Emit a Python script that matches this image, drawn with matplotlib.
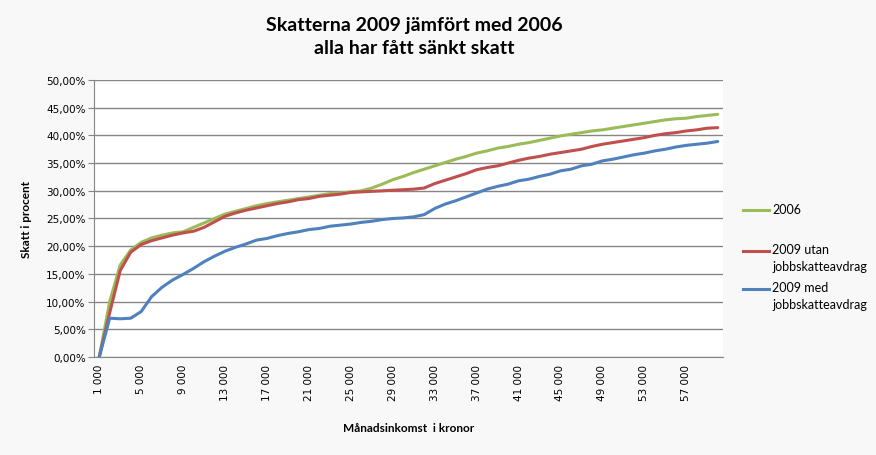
import numpy as np
import matplotlib
matplotlib.use("Agg")
import matplotlib.pyplot as plt
from matplotlib.lines import Line2D
from matplotlib.ticker import FuncFormatter

# Månadsinkomst i kronor (1 000 - 60 000)
inkomst = list(range(1000, 61000, 1000))

skatt_2006 = [0.0, 10.0, 16.6, 19.3, 20.7, 21.5, 22.0, 22.4, 22.6, 23.4,
              24.2, 25.0, 25.8, 26.3, 26.8, 27.3, 27.7, 28.0, 28.3, 28.6,
              28.9, 29.2, 29.5, 29.6, 29.8, 30.0, 30.5, 31.2, 32.0, 32.6,
              33.3, 33.9, 34.5, 35.1, 35.7, 36.2, 36.8, 37.2, 37.7, 38.0,
              38.4, 38.7, 39.1, 39.5, 39.9, 40.2, 40.5, 40.8, 41.0, 41.3,
              41.6, 41.9, 42.2, 42.5, 42.8, 43.0, 43.1, 43.4, 43.6, 43.8]

skatt_2009_utan = [0.0, 8.0, 15.6, 18.9, 20.3, 21.0, 21.5, 22.0, 22.4, 22.7,
                   23.4, 24.4, 25.4, 26.0, 26.5, 26.9, 27.3, 27.7, 28.0, 28.4,
                   28.6, 29.0, 29.2, 29.4, 29.7, 29.8, 29.9, 30.0, 30.1, 30.2,
                   30.3, 30.5, 31.3, 31.9, 32.5, 33.1, 33.8, 34.2, 34.5, 35.0,
                   35.5, 35.9, 36.2, 36.6, 36.9, 37.2, 37.5, 38.0, 38.4, 38.7,
                   39.0, 39.3, 39.6, 40.0, 40.3, 40.5, 40.8, 41.0, 41.3, 41.4]

skatt_2009_med = [0.0, 7.0, 6.9, 7.0, 8.2, 10.9, 12.6, 13.9, 14.9, 16.0,
                  17.2, 18.2, 19.1, 19.8, 20.4, 21.1, 21.4, 21.9, 22.3, 22.6,
                  23.0, 23.2, 23.6, 23.8, 24.0, 24.3, 24.5, 24.8, 25.0, 25.1,
                  25.3, 25.7, 26.8, 27.6, 28.2, 28.9, 29.6, 30.3, 30.8, 31.2,
                  31.8, 32.1, 32.6, 33.0, 33.6, 33.9, 34.5, 34.8, 35.4, 35.7,
                  36.1, 36.5, 36.8, 37.2, 37.5, 37.9, 38.2, 38.4, 38.6, 38.9]

serier = ["2006", "2009 utan\njobbskatteavdrag", "2009 med\njobbskatteavdrag"]
farger = ["#9BBB59", "#C0504D", "#4F81BD"]

plt.rcParams['font.family'] = ['Lato', 'DejaVu Sans']

W, H = 876, 456
fig = plt.figure(figsize=(W / 100, H / 100), dpi=100, facecolor="#f8f8f8")
ax = fig.add_axes([0.1073, 0.2149, 0.718, 0.6075])
ax.set_facecolor("white")

x = np.arange(len(inkomst))
for data, namn, farg in zip([skatt_2006, skatt_2009_utan, skatt_2009_med], serier, farger):
    ax.plot(x, data, color=farg, lw=2.2, label=namn, solid_capstyle="round")

ax.set_xlim(-0.5, len(inkomst) - 0.5)
ax.set_ylim(0, 50)
ax.set_yticks(np.arange(0, 51, 5))
ax.yaxis.set_major_formatter(FuncFormatter(lambda v, p: f"{v:.2f}%".replace(".", ",")))
ax.grid(axis="y", color="#868686", lw=1)
ax.set_axisbelow(True)

xt = x[::4]
ax.set_xticks(xt)
ax.set_xticklabels([f"{inkomst[i] // 1000} 000" for i in xt], rotation=90,
                   fontsize=7.5, family="DejaVu Sans")
ax.tick_params(axis="x", length=0, pad=5)
ax.tick_params(axis="y", length=4, color="#868686", labelsize=7.5, pad=2)
for lab in ax.get_yticklabels():
    lab.set_family("DejaVu Sans")

for s in ["top", "right"]:
    ax.spines[s].set_visible(False)
ax.spines["left"].set_color("#868686")
ax.spines["bottom"].set_color("#868686")

ax.set_xlabel("Månadsinkomst  i kronor", fontsize=8.5, fontweight="bold", labelpad=16)
ax.set_ylabel("Skatt i procent", fontsize=8.5, fontweight="bold", labelpad=10)

fig.text(414 / W, 1 - 37 / H, "Skatterna 2009 jämfört med 2006\nalla har fått sänkt skatt",
         ha="center", va="center", fontsize=14, fontweight="bold", linespacing=1.45)

# legend: handle aligned with the first text line, like Excel
leg_y = [211, 252, 290]
for namn, farg, yy in zip(serier, farger, leg_y):
    fig.add_artist(Line2D([743 / W, 769 / W], [1 - yy / H] * 2, color=farg, lw=2.2,
                          transform=fig.transFigure))
    fig.text(772 / W, 1 - (yy - 7.5) / H, namn, ha="left", va="top", fontsize=9,
             linespacing=1.45)

fig.savefig("out.png", dpi=100, facecolor=fig.get_facecolor())
